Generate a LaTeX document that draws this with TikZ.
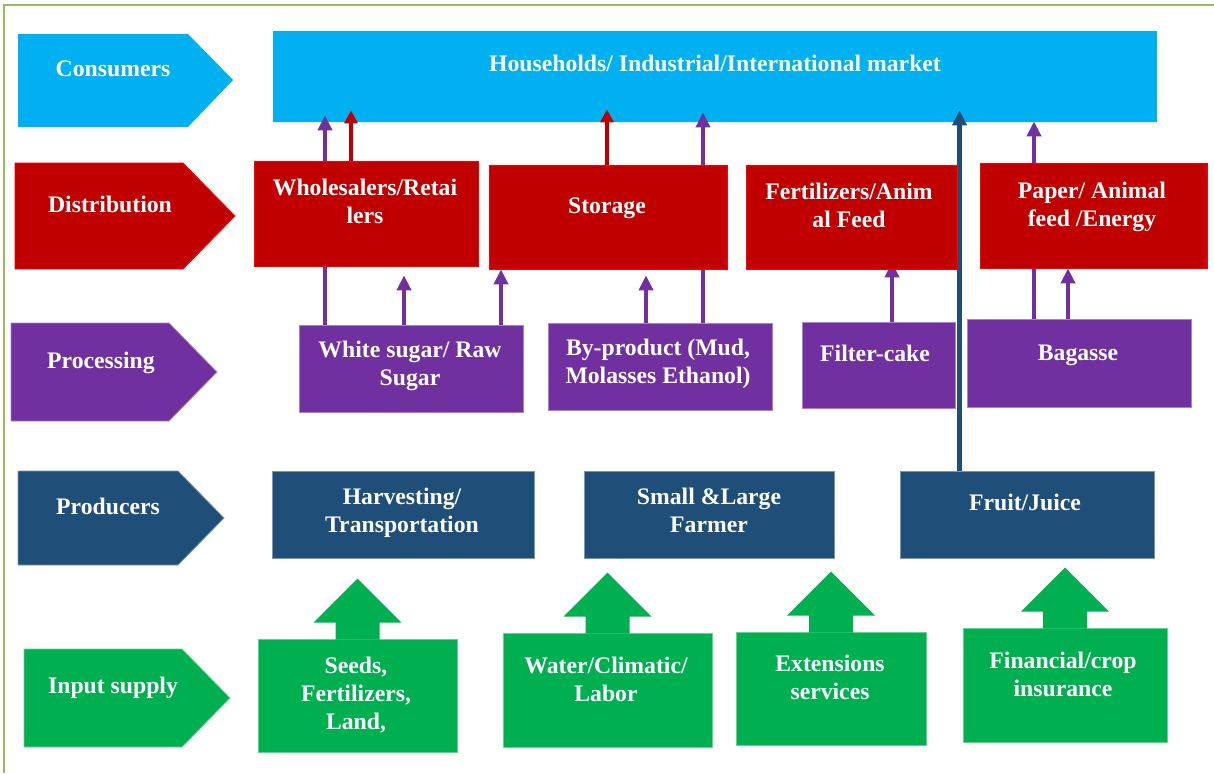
\documentclass[tikz,border=0pt]{standalone}
\usepackage{fontspec}
\setmainfont{Liberation Serif}
\usetikzlibrary{arrows.meta,calc}
\definecolor{cblue}{HTML}{00B0F0}
\definecolor{cred}{HTML}{C00000}
\definecolor{cpurple}{HTML}{7030A0}
\definecolor{cnavy}{HTML}{1F4E79}
\definecolor{cgreen}{HTML}{00B050}
\definecolor{cframe}{HTML}{9BBB59}
\pgfdeclarelayer{back}
\pgfdeclarelayer{mid}
\pgfsetlayers{back,mid,main}
\begin{document}
\begin{tikzpicture}[x=1pt,y=-1pt,
 lbl/.style={text=white,font=\fontsize{23.7}{28}\selectfont\bfseries,align=center,inner sep=0pt,anchor=north},
 bx/.style={rectangle,inner sep=0pt,line width=0.8pt},
 cbox/.style={bx,fill=cblue},
 rbox/.style={bx,fill=cred,draw=red},
 pbox/.style={bx,fill=cpurple,draw=cpurple!60!white},
 nbox/.style={bx,fill=cnavy,draw=cnavy!60!white},
 gbox/.style={bx,fill=cgreen,draw=cgreen!60!white},
 parr/.style={draw=cpurple,line width=4.5pt,-{Triangle[width=14pt,length=15pt]}},
 rarr/.style={draw=cred,line width=4pt,-{Triangle[width=13pt,length=13pt]}},
 narr/.style={draw=cnavy,line width=4.5pt,-{Triangle[width=14pt,length=15pt]}},
]
\useasboundingbox (0,0) rectangle (1214,773);
% frame
\draw[cframe,line width=1.5pt] (4,773) -- (4,5) -- (1214,5);

% level chevrons
\fill[cblue] (18,34) -- (188,34) -- (233,80) -- (188,127) -- (18,127) -- cycle;
\filldraw[fill=cred,draw=red,line width=0.8pt] (15,163) -- (183,163) -- (235,216) -- (183,269) -- (15,269) -- cycle;
\filldraw[fill=cpurple,draw=cpurple!60!white,line width=0.8pt] (11,323) -- (169,323) -- (217,372) -- (169,421) -- (11,421) -- cycle;
\filldraw[fill=cnavy,draw=cnavy!60!white,line width=0.8pt] (18,471) -- (178,471) -- (224,518) -- (178,565) -- (18,565) -- cycle;
\filldraw[fill=cgreen,draw=cgreen!60!white,line width=0.8pt] (24,649) -- (182,649) -- (230,698) -- (182,747) -- (24,747) -- cycle;
\node[lbl] (lcons) at (113,56.4) {\strut Consumers};
\node[lbl] (ldist) at (110,192.4) {\strut Distribution};
\node[lbl] (lproc) at (101,348.4) {\strut Processing};
\node[lbl] (lprod) at (108,494.4) {\strut Producers};
\node[lbl] (linp) at (113,673.4) {\strut Input supply};

% boxes
\begin{pgfonlayer}{back}
\node[cbox,minimum width=884pt,minimum height=91pt] (cons) at (715,76.5) {};
\end{pgfonlayer}
\node[rbox,minimum width=224pt,minimum height=105pt] (ws) at (366,213.5) {};
\node[rbox,minimum width=238pt,minimum height=104pt] (sto) at (608,217) {};
\node[rbox,minimum width=211pt,minimum height=104pt] (fert) at (851.5,217) {};
\node[rbox,minimum width=227pt,minimum height=105pt] (pap) at (1093.5,215.5) {};
\node[pbox,minimum width=224pt,minimum height=87pt] (wsu) at (411,368.5) {};
\node[pbox,minimum width=224pt,minimum height=87pt] (byp) at (660,366.5) {};
\node[pbox,minimum width=153pt,minimum height=86pt] (fil) at (878.5,365) {};
\node[pbox,minimum width=224pt,minimum height=88pt] (bag) at (1079,363) {};
\node[nbox,minimum width=262pt,minimum height=87pt] (har) at (403,514.5) {};
\node[nbox,minimum width=250pt,minimum height=87pt] (far) at (709,514.5) {};
\node[nbox,minimum width=254pt,minimum height=87pt] (fru) at (1027,514.5) {};
\node[gbox,minimum width=199pt,minimum height=113pt] (seed) at (357.5,695.5) {};
\node[gbox,minimum width=209pt,minimum height=114pt] (wat) at (607.5,690) {};
\node[gbox,minimum width=190pt,minimum height=113pt] (ext) at (831,688.5) {};
\node[gbox,minimum width=204pt,minimum height=114pt] (fin) at (1065,685) {};

% green block arrows
\foreach \b in {seed,wat,ext,fin}{
  \fill[cgreen] ($(\b.north)+(-22,1)$) -- ++(0,-17) -- ++(-22,0) -- ++(44,-44) -- ++(44,44) -- ++(-22,0) -- ++(0,17) -- cycle;
}

% texts
\node[lbl] (tcons) at (715,51.4) {\strut Households/ Industrial/International market};
\node[lbl] (tws) at (365,175.4) {\strut Wholesalers/Retai\\lers};
\node[lbl] (tsto) at (607,193.4) {\strut Storage};
\node[lbl] (tfert) at (849,179.4) {\strut Fertilizers/Anim\\al Feed};
\node[lbl] (tpap) at (1092,178.4) {\strut Paper/ Animal\\feed /Energy};
\node[lbl] (twsu) at (410,337.4) {\strut White sugar/ Raw\\Sugar};
\node[lbl] (tbyp) at (658,335.4) {\strut By-product (Mud,\\Molasses Ethanol)};
\node[lbl] (tfil) at (875,341.4) {\strut Filter-cake};
\node[lbl] (tbag) at (1078,340.4) {\strut Bagasse};
\node[lbl] (thar) at (402,484.4) {\strut Harvesting/\\Transportation};
\node[lbl] (tfar) at (709,484.4) {\strut Small \&Large\\Farmer};
\node[lbl] (tfru) at (1025,490.4) {\strut Fruit/Juice};
\node[lbl] (tseed) at (356,653.4) {\strut Seeds,\\Fertilizers,\\Land,};
\node[lbl] (twat) at (606,653.4) {\strut Water/Climatic/\\Labor};
\node[lbl] (text) at (830,651.4) {\strut Extensions\\services};
\node[lbl] (tfin) at (1063,648.4) {\strut Financial/crop\\insurance};

% connectors
\coordinate (xa) at (325,0);
\coordinate (xb) at (351,0);
\coordinate (xc) at (404,0);
\coordinate (xd) at (501,0);
\coordinate (xe) at (607,0);
\coordinate (xf) at (646,0);
\coordinate (xg) at (703,0);
\coordinate (xh) at (892,0);
\coordinate (xi) at (959.5,0);
\coordinate (xj) at (1034,0);
\coordinate (xk) at (1068,0);
\begin{pgfonlayer}{mid}
\draw[parr,shorten >=-7pt] (wsu.north -| xa) -- (cons.south -| xa);
\draw[rarr,shorten >=-12pt] (ws.north -| xb) -- (cons.south -| xb);
\draw[parr,shorten >=9pt] (wsu.north -| xc) -- (ws.south -| xc);
\draw[parr] (wsu.north -| xd) -- (sto.south -| xd);
\draw[rarr,shorten >=-13pt] (sto.north -| xe) -- (cons.south -| xe);
\draw[parr,shorten >=6pt] (byp.north -| xf) -- (sto.south -| xf);
\draw[parr,shorten >=-10pt] (byp.north -| xg) -- (cons.south -| xg);
\draw[parr,shorten >=-7pt] (fil.north -| xh) -- (fert.south -| xh);
\draw[narr,shorten >=-12pt] (fru.north -| xi) -- (cons.south -| xi);
\draw[parr,shorten >=-1pt] (bag.north -| xj) -- (cons.south -| xj);
\draw[parr] (bag.north -| xk) -- (pap.south -| xk);
\end{pgfonlayer}
\end{tikzpicture}
\end{document}
